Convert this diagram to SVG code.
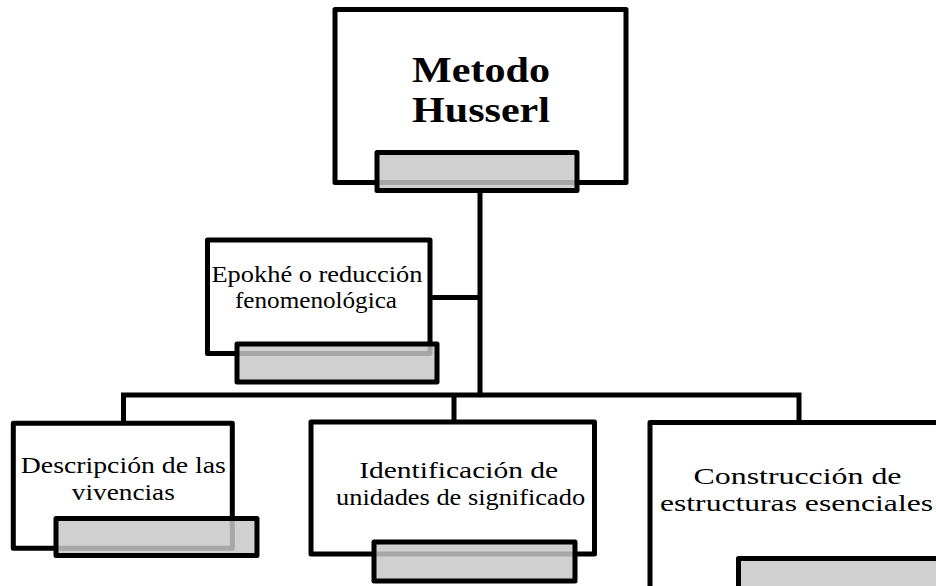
<svg xmlns="http://www.w3.org/2000/svg" width="936" height="586" viewBox="0 0 936 586">
<style>
.box{fill:#ffffff;stroke:#000000;stroke-width:5;stroke-linejoin:round}
.bar{fill:#c7c7c7;fill-opacity:0.84;stroke:#000000;stroke-width:5;stroke-linejoin:round}
.con{fill:none;stroke:#000000;stroke-width:5}
.t{font-family:"Liberation Serif","Times New Roman",serif;font-size:24px;fill:#000000}
.tb{font-family:"Liberation Serif","Times New Roman",serif;font-size:36px;font-weight:bold;fill:#000000}
</style>
<rect width="936" height="586" fill="#ffffff"/>
<g id="connectors">
<path class="con" d="M480,190 V395"/>
<path class="con" d="M430,297.5 H480"/>
<path class="con" d="M123.5,423 V395 H799 V422"/>
<path class="con" d="M454,395 V422"/>
</g>
<g id="node-metodo">
<rect class="box" x="335" y="9.5" width="291" height="173"/>
<text class="tb" x="481" y="82" text-anchor="middle" textLength="138" lengthAdjust="spacingAndGlyphs">Metodo</text>
<text class="tb" x="481" y="122" text-anchor="middle" textLength="138" lengthAdjust="spacingAndGlyphs">Husserl</text>
<rect class="bar" x="377" y="152.5" width="200" height="38"/>
</g>
<g id="node-epokhe">
<rect class="box" x="207.5" y="240" width="222.5" height="113.5"/>
<text class="t" x="317" y="282" text-anchor="middle" textLength="211" lengthAdjust="spacingAndGlyphs">Epokhé o reducción</text>
<text class="t" x="316" y="308" text-anchor="middle" textLength="162" lengthAdjust="spacingAndGlyphs">fenomenológica</text>
<rect class="bar" x="237" y="344" width="200" height="38"/>
</g>
<g id="node-descripcion">
<rect class="box" x="13.3" y="423.3" width="219" height="125"/>
<text class="t" x="123.3" y="473" text-anchor="middle" textLength="205" lengthAdjust="spacingAndGlyphs">Descripción de las</text>
<text class="t" x="123.3" y="500" text-anchor="middle" textLength="103" lengthAdjust="spacingAndGlyphs">vivencias</text>
<rect class="bar" x="56" y="518.5" width="201" height="37"/>
</g>
<g id="node-identificacion">
<rect class="box" x="311" y="422" width="283.5" height="132"/>
<text class="t" x="458.7" y="478" text-anchor="middle" textLength="199" lengthAdjust="spacingAndGlyphs">Identificación de</text>
<text class="t" x="460.6" y="505" text-anchor="middle" textLength="249" lengthAdjust="spacingAndGlyphs">unidades de significado</text>
<rect class="bar" x="374" y="542" width="201" height="39"/>
</g>
<g id="node-construccion">
<rect class="box" x="650" y="422.5" width="300" height="200"/>
<text class="t" x="797.5" y="484" text-anchor="middle" textLength="208" lengthAdjust="spacingAndGlyphs">Construcción de</text>
<text class="t" x="796.5" y="511" text-anchor="middle" textLength="273" lengthAdjust="spacingAndGlyphs">estructuras esenciales</text>
<rect class="bar" x="738.5" y="558.5" width="220" height="60"/>
</g>
</svg>
